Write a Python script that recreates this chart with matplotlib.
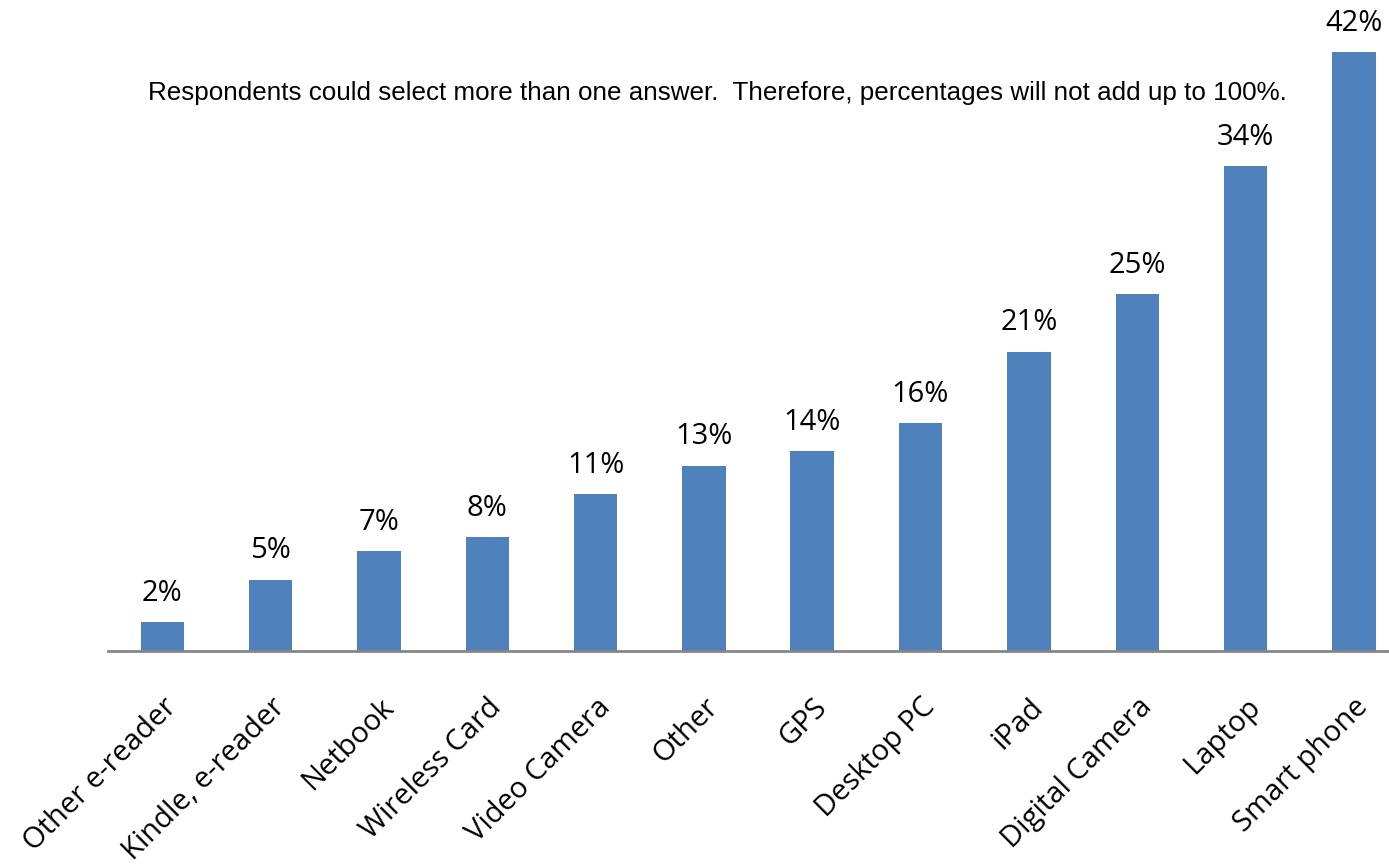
import matplotlib.pyplot as plt

categories = ["Other e-reader", "Kindle, e-reader", "Netbook", "Wireless Card",
              "Video Camera", "Other", "GPS", "Desktop PC", "iPad",
              "Digital Camera", "Laptop", "Smart phone"]
values = [2, 5, 7, 8, 11, 13, 14, 16, 21, 25, 34, 42]
note = "Respondents could select more than one answer.  Therefore, percentages will not add up to 100%."

fig = plt.figure(figsize=(13.89, 8.65), dpi=100)
# axes runs past the right edge, the original chart is cropped there
ax = fig.add_axes([108 / 1389, 214 / 865, 1300 / 1389, 599 / 865])

x = list(range(len(categories)))
bars = ax.bar(x, values, width=0.4, color="#4F81BD")

for xi, v in zip(x, values):
    ax.text(xi, v + 1.0, f"{v}%", ha="center", va="bottom",
            fontsize=21, family="Open Sans", clip_on=False)

ax.set_xlim(-0.5, 11.5)
ax.set_ylim(0, 42)
ax.set_yticks([])
ax.set_xticks(x)
ax.set_xticklabels(categories, rotation=45, ha="right", va="top",
                   rotation_mode="anchor", fontsize=21, family="Open Sans")
ax.tick_params(axis="x", length=0, pad=30)

for s in ["top", "right", "left"]:
    ax.spines[s].set_visible(False)
ax.spines["bottom"].set_color("#868686")
ax.spines["bottom"].set_linewidth(2)

fig.text(148 / 1389, 1 - 93 / 865, note, ha="left", va="center",
         fontsize=18.7, family="Liberation Sans")

fig.savefig("out.png", dpi=100)
